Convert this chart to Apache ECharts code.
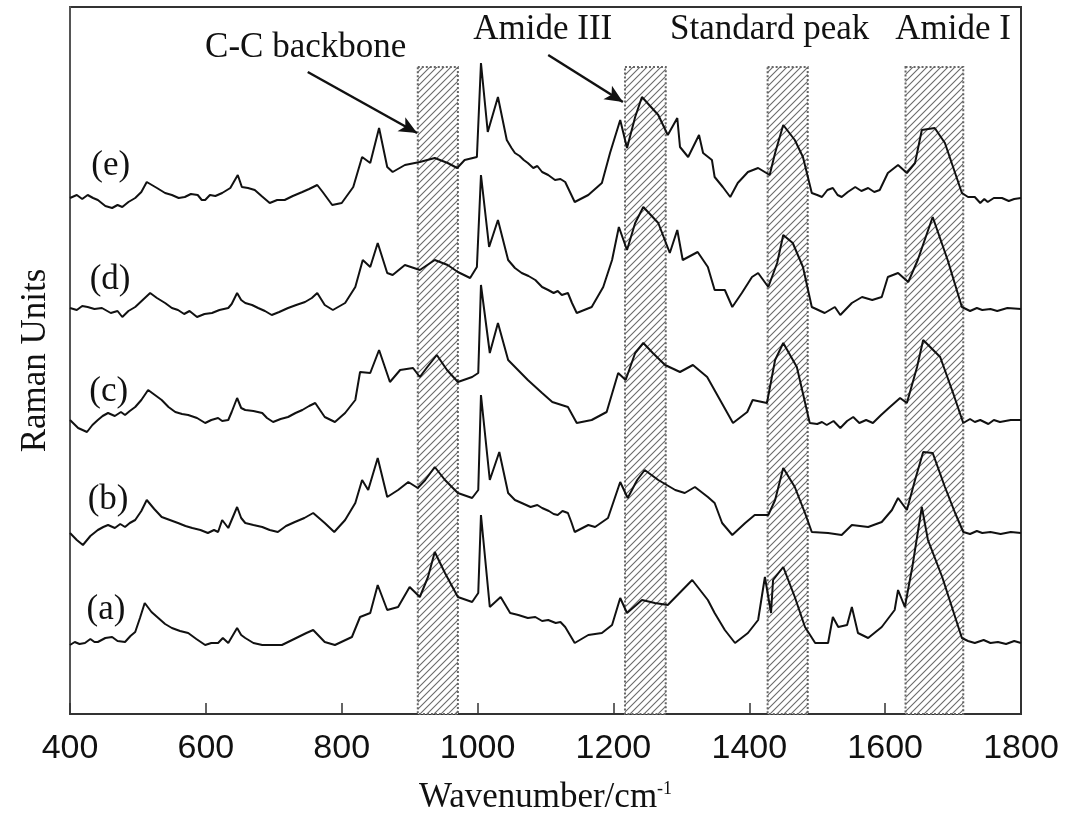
<!DOCTYPE html>
<html>
<head>
<meta charset="utf-8">
<script src="https://cdn.jsdelivr.net/npm/echarts@6/dist/echarts.min.js"></script>
<style>
html,body{margin:0;padding:0;background:#fff;}
#chart{width:1067px;height:824px;}
</style>
</head>
<body>
<div id="chart"></div>
<script>
// x ticks
const xTicks = [400, 600, 800, 1000, 1200, 1400, 1600, 1800];
// Trace labels
const traceNames = ['(a)', '(b)', '(c)', '(d)', '(e)'];
// Shaded bands [start, end] in cm-1
const bandRanges = [[912, 971], [1217, 1277], [1427, 1486], [1630, 1715]];
const bandTop = 647;
// Band titles
const bandTitles = ['C-C backbone', 'Amide III', 'Standard peak', 'Amide I'];

// Spectra: [wavenumber, stacked intensity]
const traceE = [[400,516],[410,519],[418,515],[426,519],[434,516],[441,514],[452,508],[462,506],[470,509],[477,507],[486,512],[496,516],[505,522],[513,532],[528,526],[540,521],[550,519],[560,516],[569,517],[578,520],[588,519],[594,514],[599,514],[606,519],[614,518],[624,521],[636,526],[647,539],[653,527],[662,526],[672,524],[682,518],[694,511],[705,514],[716,514],[728,518],[742,522],[752,525],[764,529],[772,522],[786,509],[800,511],[817,527],[830,557],[842,551],[855,586],[867,547],[875,542],[893,549],[915,552],[937,556],[956,551],[970,546],[981,554],[999,557],[1005,651],[1015,582],[1030,617],[1043,574],[1050,566],[1055,561],[1062,558],[1068,554],[1074,551],[1082,546],[1088,548],[1095,542],[1104,539],[1110,536],[1114,534],[1122,535],[1129,532],[1136,522],[1143,512],[1163,519],[1183,531],[1195,561],[1210,594],[1220,566],[1232,597],[1242,617],[1266,599],[1280,579],[1294,596],[1298,567],[1310,557],[1326,579],[1332,561],[1345,554],[1349,537],[1361,527],[1372,517],[1383,531],[1398,542],[1413,546],[1430,539],[1438,561],[1450,589],[1467,574],[1479,557],[1492,521],[1500,519],[1507,517],[1515,524],[1523,526],[1530,519],[1536,517],[1545,522],[1556,527],[1565,523],[1575,526],[1584,522],[1592,524],[1604,541],[1619,549],[1632,541],[1644,551],[1654,584],[1673,586],[1688,571],[1700,547],[1713,521],[1722,517],[1732,517],[1740,511],[1746,515],[1751,512],[1760,516],[1772,516],[1782,513],[1790,515],[1800,516]];
const traceD = [[400,406],[410,404],[418,408],[426,407],[436,405],[447,406],[460,401],[470,403],[477,397],[486,403],[496,407],[507,414],[518,421],[528,416],[540,411],[550,406],[559,404],[568,400],[576,403],[587,397],[598,400],[609,401],[620,404],[633,406],[638,410],[646,421],[652,414],[658,411],[668,409],[677,406],[687,403],[697,399],[708,402],[721,406],[733,409],[746,412],[756,416],[764,421],[775,409],[787,404],[805,411],[820,427],[831,454],[842,447],[853,471],[867,441],[875,439],[893,449],[915,444],[937,454],[956,449],[971,442],[989,436],[999,447],[1005,539],[1017,467],[1030,494],[1045,454],[1055,446],[1065,441],[1075,438],[1085,434],[1095,427],[1104,424],[1112,421],[1118,423],[1124,419],[1133,421],[1139,411],[1146,401],[1168,407],[1185,427],[1198,454],[1208,487],[1220,464],[1232,491],[1244,507],[1266,491],[1283,461],[1294,484],[1302,454],[1324,462],[1339,447],[1349,424],[1364,424],[1375,407],[1389,421],[1404,437],[1413,441],[1428,427],[1441,451],[1450,479],[1464,471],[1479,447],[1492,407],[1511,401],[1526,407],[1534,399],[1551,411],[1566,417],[1581,414],[1595,417],[1604,437],[1619,441],[1634,432],[1648,454],[1670,497],[1692,454],[1713,407],[1725,403],[1735,406],[1743,404],[1755,405],[1765,403],[1780,406],[1800,405]];
const traceC = [[400,294],[412,286],[425,282],[433,289],[441,294],[448,298],[456,301],[466,298],[475,302],[481,299],[488,303],[496,307],[505,314],[515,324],[525,319],[535,314],[545,307],[555,302],[565,300],[574,299],[587,296],[599,291],[608,294],[618,296],[624,293],[633,294],[638,302],[646,316],[652,306],[658,304],[670,303],[683,301],[690,296],[699,292],[710,295],[721,297],[732,301],[742,304],[752,308],[761,311],[775,297],[790,292],[805,301],[820,314],[827,342],[842,341],[855,364],[871,332],[886,344],[905,346],[915,337],[926,347],[940,359],[955,344],[971,332],[992,337],[1001,341],[1005,429],[1018,361],[1030,391],[1045,354],[1074,334],[1095,321],[1110,312],[1133,307],[1146,291],[1168,294],[1190,302],[1207,341],[1218,334],[1232,361],[1244,371],[1258,361],[1276,349],[1298,342],[1317,349],[1338,337],[1357,314],[1376,291],[1397,302],[1405,314],[1426,311],[1438,354],[1450,371],[1470,347],[1489,291],[1500,290],[1507,292],[1514,289],[1524,293],[1534,286],[1544,293],[1553,297],[1562,291],[1572,294],[1582,291],[1594,299],[1607,307],[1622,316],[1632,311],[1647,347],[1656,374],[1681,357],[1700,321],[1715,291],[1725,295],[1732,292],[1740,294],[1752,290],[1760,294],[1769,292],[1785,294],[1800,294]];
const traceB = [[400,181],[410,174],[419,169],[430,178],[441,184],[449,187],[456,189],[466,186],[474,190],[481,187],[488,191],[496,194],[505,203],[513,214],[524,205],[535,197],[547,194],[559,191],[570,188],[580,186],[592,184],[603,181],[612,184],[618,182],[624,194],[633,186],[646,207],[652,196],[658,191],[670,189],[683,187],[694,184],[706,182],[718,188],[731,192],[745,196],[758,201],[775,191],[789,182],[805,194],[820,211],[830,234],[839,224],[853,256],[867,217],[883,224],[898,232],[912,226],[923,234],[937,247],[952,234],[971,221],[992,216],[1001,224],[1005,319],[1018,234],[1032,262],[1045,221],[1055,214],[1065,211],[1078,207],[1088,209],[1095,206],[1105,203],[1112,200],[1118,199],[1125,203],[1133,201],[1138,192],[1143,182],[1163,189],[1173,187],[1192,196],[1210,232],[1221,216],[1235,234],[1246,244],[1266,234],[1291,224],[1305,221],[1320,227],[1339,217],[1349,211],[1360,191],[1375,179],[1394,191],[1408,199],[1428,199],[1438,214],[1450,246],[1467,227],[1482,201],[1492,182],[1516,181],[1536,179],[1551,189],[1575,187],[1595,192],[1610,204],[1619,216],[1632,204],[1644,234],[1656,262],[1670,261],[1688,227],[1703,201],[1715,182],[1725,180],[1735,183],[1743,181],[1755,182],[1770,180],[1785,182],[1800,181]];
const traceA = [[400,69],[407,72],[414,70],[422,71],[430,75],[436,72],[441,72],[452,76],[462,77],[470,73],[481,72],[489,78],[496,82],[503,96],[510,111],[520,102],[530,96],[540,90],[550,86],[562,83],[574,81],[586,75],[599,69],[608,71],[618,71],[625,76],[633,71],[646,86],[652,79],[658,76],[670,71],[683,69],[698,69],[712,69],[724,73],[736,77],[748,81],[758,84],[775,72],[790,69],[815,77],[827,97],[842,101],[853,129],[867,104],[883,107],[900,127],[915,117],[927,137],[937,162],[952,141],[971,117],[992,112],[1001,121],[1005,199],[1018,107],[1034,117],[1048,101],[1060,99],[1074,96],[1085,97],[1095,93],[1104,94],[1115,91],[1122,92],[1129,87],[1136,79],[1143,71],[1163,79],[1183,81],[1198,89],[1210,116],[1220,101],[1242,114],[1261,111],[1280,109],[1316,134],[1339,114],[1349,101],[1364,84],[1379,71],[1398,81],[1413,94],[1423,137],[1432,101],[1435,134],[1450,147],[1467,117],[1482,87],[1497,71],[1516,71],[1523,97],[1531,87],[1544,89],[1551,107],[1560,81],[1575,76],[1595,87],[1614,104],[1619,124],[1629,107],[1640,147],[1654,207],[1663,174],[1684,137],[1713,76],[1722,73],[1732,71],[1745,74],[1755,71],[1766,72],[1778,70],[1790,73],[1800,71]];

// Annotation anchor positions (data space)
const traceLabelPos = [[453,104],[456,214],[457,322],[459,434],[460,548]];
const bandTitlePos = [[747,666],[1096,684],[1430,684],[1700,684]];
const arrowLines = [[[750,642],[911,581]],[[1104,659],[1214,612]]];

const serif = '"Liberation Serif", "DejaVu Serif", serif';
const sans = '"Liberation Sans", Arial, sans-serif';

// hatch pattern
const pc = document.createElement('canvas');
pc.width = 7; pc.height = 7;
const g = pc.getContext('2d');
g.fillStyle = '#ffffff';
g.fillRect(0,0,7,7);
g.strokeStyle = '#6a6a6a';
g.lineWidth = 1.1;
g.beginPath();
g.moveTo(-1,8); g.lineTo(8,-1);
g.moveTo(-1,1); g.lineTo(1,-1);
g.moveTo(6,8); g.lineTo(8,6);
g.stroke();

const chart = echarts.init(document.getElementById('chart'));
const traces = [traceA, traceB, traceC, traceD, traceE];

const lineSeries = traces.map((d, i) => ({
  type: 'line',
  name: traceNames[i],
  data: d,
  showSymbol: false,
  symbol: 'none',
  smooth: false,
  lineStyle: {color: '#111', width: 2},
  z: 5,
  silent: true
}));

lineSeries[0].markArea = {
  silent: true,
  itemStyle: {
    color: {image: pc, repeat: 'repeat'},
    borderColor: '#666',
    borderWidth: 2,
    borderType: 'dotted'
  },
  data: bandRanges.map(r => [{coord: [r[0], bandTop]}, {coord: [r[1], 0]}])
};
lineSeries[0].markLine = {
  silent: true,
  symbol: ['none', 'arrow'],
  symbolSize: [12, 18],
  lineStyle: {color: '#111', width: 2.5, type: 'solid'},
  label: {show: false},
  data: arrowLines.map(a => [{coord: a[0]}, {coord: a[1]}])
};

const allTexts = traceNames.concat(bandTitles);
const allTextPos = traceLabelPos.concat(bandTitlePos);
const textSeries = {
  type: 'custom',
  silent: true,
  z: 10,
  data: allTextPos.map((p, i) => [p[0], p[1], i]),
  renderItem: function (params, api) {
    const pt = api.coord([api.value(0), api.value(1)]);
    return {
      type: 'text',
      x: pt[0], y: pt[1],
      style: {
        text: allTexts[api.value(2)],
        fill: '#111',
        fontFamily: serif,
        fontSize: 35,
        align: 'center',
        verticalAlign: 'middle'
      }
    };
  }
};

chart.setOption({
  animation: false,
  backgroundColor: '#fff',
  grid: {left: 70, right: 46, top: 7, bottom: 110, show: true, borderColor: '#333', borderWidth: 2},
  xAxis: {
    type: 'value', min: xTicks[0], max: xTicks[xTicks.length-1], interval: 200,
    axisLine: {show: true, lineStyle: {color: '#333', width: 2}},
    axisTick: {show: true, inside: true, length: 11, lineStyle: {color: '#333', width: 1.5}},
    axisLabel: {fontFamily: sans, fontSize: 34, color: '#111', margin: 18,
      formatter: v => xTicks.includes(v) ? String(v) : ''},
    splitLine: {show: false},
    name: '{a|Wavenumber/cm}{b|-1}',
    nameLocation: 'middle', nameGap: 66,
    nameTextStyle: {rich: {
      a: {fontFamily: serif, fontSize: 35, color: '#111'},
      b: {fontFamily: serif, fontSize: 18, color: '#111', verticalAlign: 'top', padding: [0,0,18,0]}
    }}
  },
  yAxis: {
    type: 'value', min: 0, max: 707,
    axisLine: {show: true, lineStyle: {color: '#555', width: 2}},
    axisTick: {show: false}, axisLabel: {show: false}, splitLine: {show: false},
    name: 'Raman Units', nameLocation: 'middle', nameGap: 17, nameRotate: 90,
    nameTextStyle: {fontFamily: serif, fontSize: 35, color: '#111'}
  },
  series: lineSeries.concat([textSeries])
});
</script>
</body>
</html>
